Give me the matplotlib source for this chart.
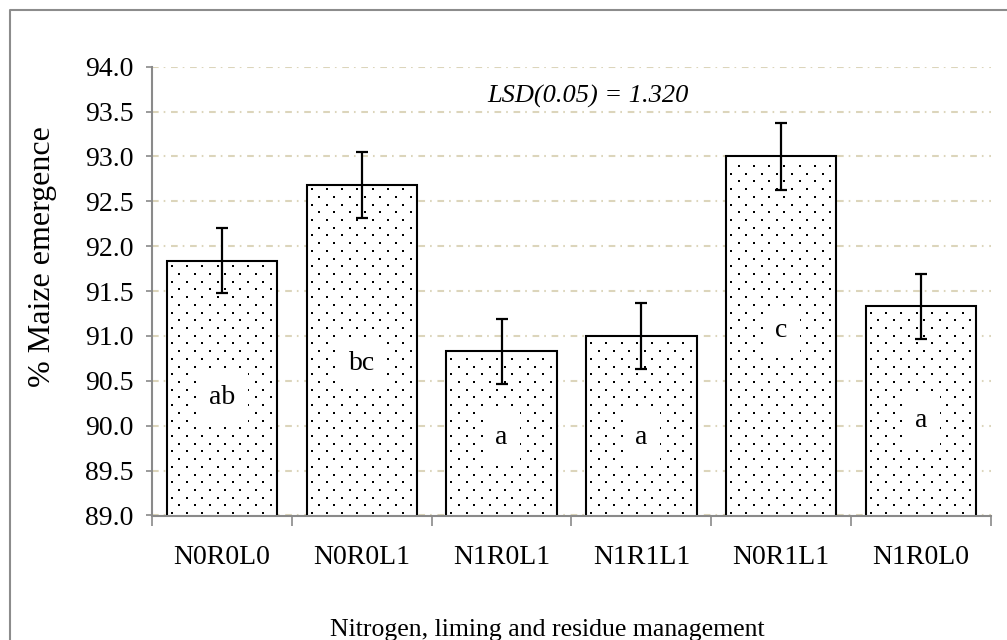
import numpy as np
import matplotlib.pyplot as plt
from matplotlib.lines import Line2D

plt.rcParams['font.family'] = ['Liberation Serif', 'DejaVu Serif']
plt.rcParams['lines.scale_dashes'] = False

# Maize emergence per treatment
treatments = ['N0R0L0', 'N0R0L1', 'N1R0L1', 'N1R1L1', 'N0R1L1', 'N1R0L0']
emergence = [91.84, 92.68, 90.83, 91.00, 93.00, 91.33]
std_err = [0.36, 0.37, 0.36, 0.37, 0.37, 0.36]
letters = ['ab', 'bc', 'a', 'a', 'c', 'a']
letter_y = [90.32, 90.69, 89.87, 89.87, 91.06, 90.06]
lsd_text = 'LSD(0.05) = 1.320'

W, H = 1007, 640
fig = plt.figure(figsize=(W / 100, H / 100), dpi=100)
ax = fig.add_axes([152 / W, 1 - 515.5 / H, (991 - 152) / W, (515.5 - 66.7) / H])

x = np.arange(len(treatments))
bar_w = 0.79
ax.bar(x, emergence, width=bar_w, color='white', edgecolor='black', linewidth=1.5, zorder=2)

# dotted fill: staggered grid of small dots inside each bar
ymin, ymax = 89.0, 94.0
dx = 15.3 / 140.0
dy = 7.7 / 89.6
mx = 5.0 / 140.0
for xc, h in zip(x, emergence):
    left, right = xc - bar_w / 2, xc + bar_w / 2
    rows = np.arange(ymin + dy * 0.3, h - dy * 0.4, dy)
    px, py = [], []
    for i, yy in enumerate(rows):
        off = (i % 2) * dx / 2
        xs = np.arange(left + mx + off, right - mx * 0.5, dx)
        px.extend(xs)
        py.extend([yy] * len(xs))
    ax.scatter(px, py, s=1.8, marker='s', color='black', linewidths=0, zorder=3)

ax.errorbar(x, emergence, yerr=std_err, fmt='none', ecolor='black',
            elinewidth=1.6, capsize=4, capthick=1.6, zorder=4)

for xc, yl, s in zip(x, letter_y, letters):
    ax.text(xc, yl, s, ha='center', va='center', fontsize=20, zorder=5,
            bbox=dict(boxstyle='square,pad=0.45', fc='white', ec='none'))

ax.text(1.9, 93.665, lsd_text, ha='left', va='center', fontsize=19, style='italic')

ax.set_xlim(-0.5, 5.5)
ax.set_ylim(ymin, ymax)
ax.set_yticks(np.arange(89.0, 94.01, 0.5))
ax.set_yticklabels([f'{v:.1f}' for v in np.arange(89.0, 94.01, 0.5)])
ax.set_xticks(x)
ax.set_xticklabels(treatments)
ax.set_xticks(np.arange(-0.5, 5.6, 1.0), minor=True)

ax.yaxis.grid(True, color='#dcd5bb', linewidth=1.5, linestyle=(0, (4.8, 3.6, 1.2, 4.1)))
ax.set_axisbelow(True)

for side in ['top', 'right']:
    ax.spines[side].set_visible(False)
for side in ['left', 'bottom']:
    ax.spines[side].set_color('#8a8a8a')
    ax.spines[side].set_linewidth(1.5)

ax.tick_params(axis='y', length=4.3, width=1.2, color='#8a8a8a', labelsize=20, pad=9)
ax.tick_params(axis='x', which='major', length=0, labelsize=20, pad=21)
ax.tick_params(axis='x', which='minor', length=7.2, width=1.2, color='#8a8a8a')

fig.text(43 / W, 1 - 257 / H, '% Maize emergence', rotation=90, ha='center', va='center', fontsize=23)
fig.text(547 / W, 1 - 630 / H, 'Nitrogen, liming and residue management', ha='center', va='center', fontsize=18.5)

# outer frame of the chart area
fig.add_artist(Line2D([10 / W, 10 / W, 1.0], [0.0, 1 - 10 / H, 1 - 10 / H],
                      transform=fig.transFigure, color='#8c8c8c', linewidth=1.5))

fig.savefig('out.png', dpi=100)
